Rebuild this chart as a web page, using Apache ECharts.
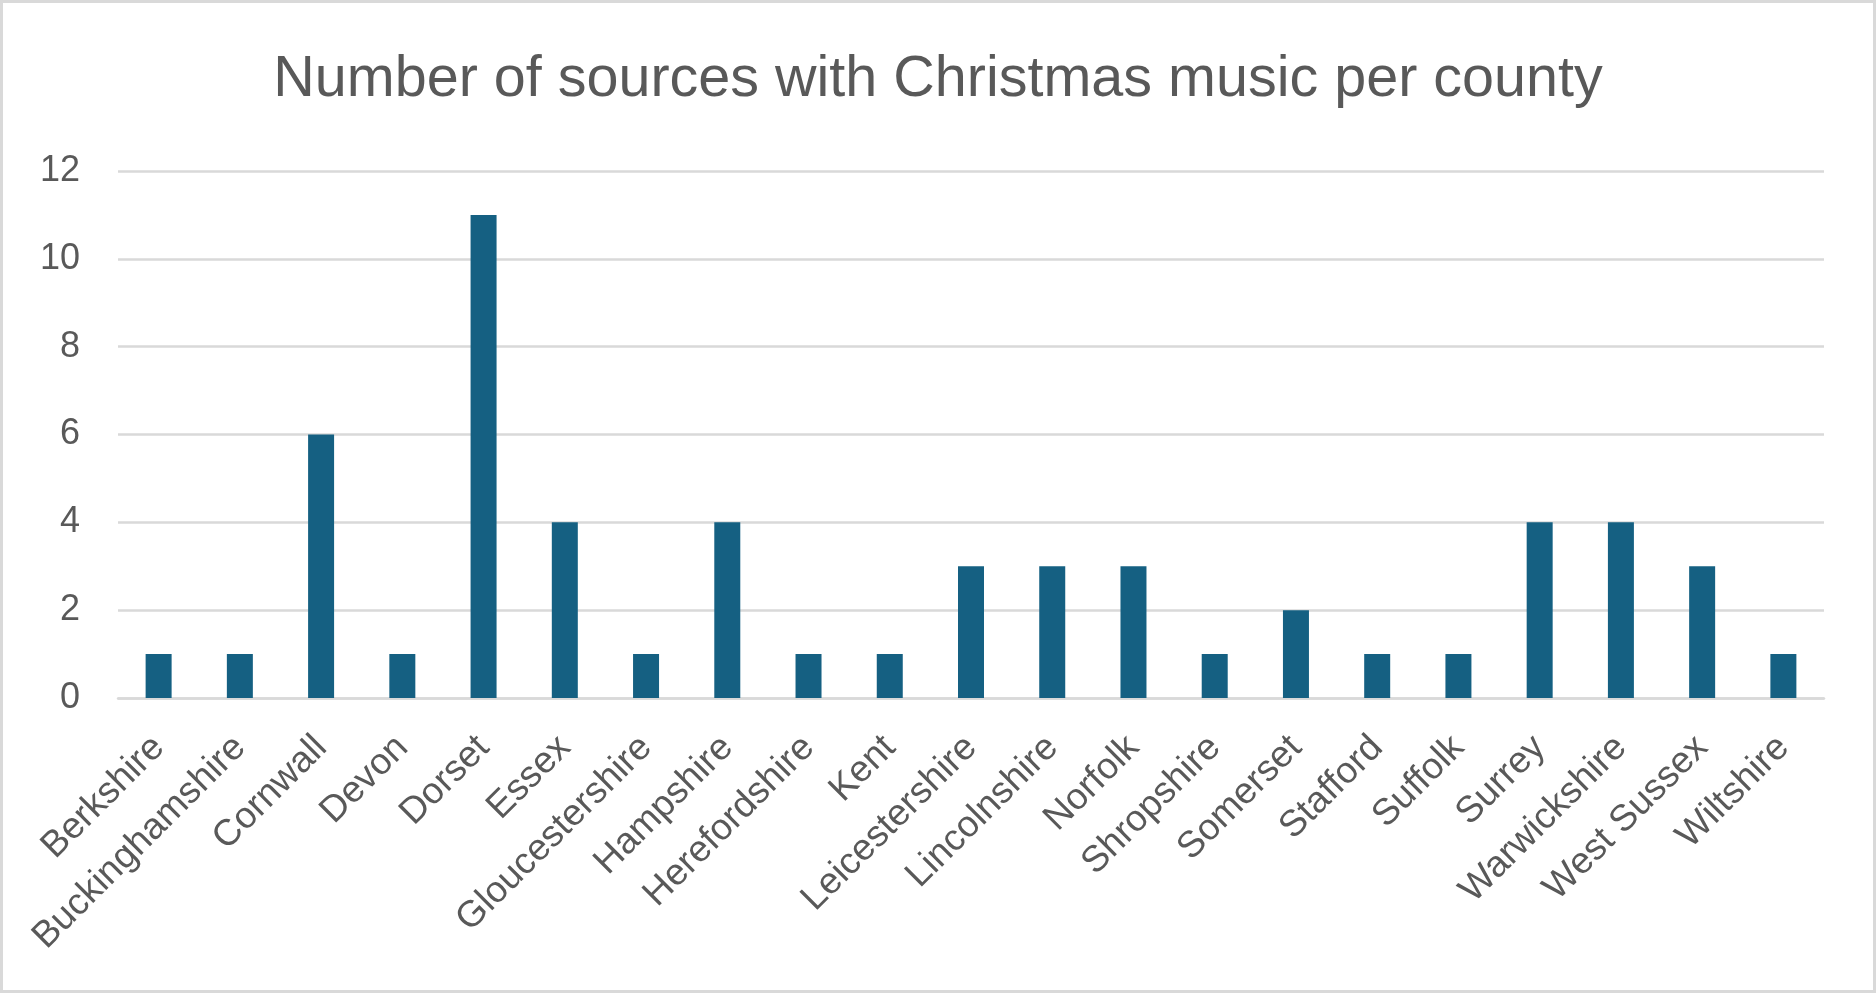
<!DOCTYPE html>
<html>
<head>
<meta charset="utf-8">
<script src="https://cdn.jsdelivr.net/npm/echarts@6/dist/echarts.min.js"></script>
<style>
  html, body { margin: 0; padding: 0; background: #fff; }
  #chart { width: 1876px; height: 993px; }
</style>
</head>
<body>
<div id="chart"></div>
<script>
// 数据
const counties = [
  'Berkshire', 'Buckinghamshire', 'Cornwall', 'Devon', 'Dorset', 'Essex',
  'Gloucestershire', 'Hampshire', 'Herefordshire', 'Kent', 'Leicestershire',
  'Lincolnshire', 'Norfolk', 'Shropshire', 'Somerset', 'Stafford', 'Suffolk',
  'Surrey', 'Warwickshire', 'West Sussex', 'Wiltshire'
];
const sourceCounts = [1, 1, 6, 1, 11, 4, 1, 4, 1, 1, 3, 3, 3, 1, 2, 1, 1, 4, 4, 3, 1];
const yMin = 0;
const yMax = 12;
const yStep = 2;

const textColor = '#595959';
const lineColor = '#d9d9d9';
const fontFamily = '"Liberation Sans", Arial, sans-serif';

const chart = echarts.init(document.getElementById('chart'));

chart.setOption({
  backgroundColor: '#fff',
  animation: false,
  title: {
    text: 'Number of sources with Christmas music per county',
    left: 'center',
    top: 46,
    textStyle: { color: textColor, fontSize: 57.5, fontWeight: 'normal', fontFamily: fontFamily }
  },
  // 外边框
  graphic: [{
    type: 'rect',
    shape: { x: 1.5, y: 1.5, width: 1873, height: 990 },
    style: { fill: 'none', stroke: lineColor, lineWidth: 3 },
    silent: true
  }],
  grid: { left: 118, right: 52, top: 171, bottom: 295, containLabel: false },
  xAxis: {
    type: 'category',
    data: counties,
    axisTick: { show: false },
    axisLine: { lineStyle: { color: lineColor, width: 2.5 } },
    axisLabel: {
      rotate: 45,
      interval: 0,
      margin: 44,
      color: textColor,
      fontSize: 37,
      fontFamily: fontFamily
    }
  },
  yAxis: {
    type: 'value',
    min: yMin,
    max: yMax,
    interval: yStep,
    axisLine: { show: false },
    axisTick: { show: false },
    splitLine: { lineStyle: { color: lineColor, width: 2.5 } },
    axisLabel: { color: textColor, fontSize: 36, margin: 38, fontFamily: fontFamily }
  },
  series: [{
    type: 'bar',
    data: sourceCounts,
    barWidth: '32%',
    itemStyle: { color: '#156082' }
  }]
});
</script>
</body>
</html>
